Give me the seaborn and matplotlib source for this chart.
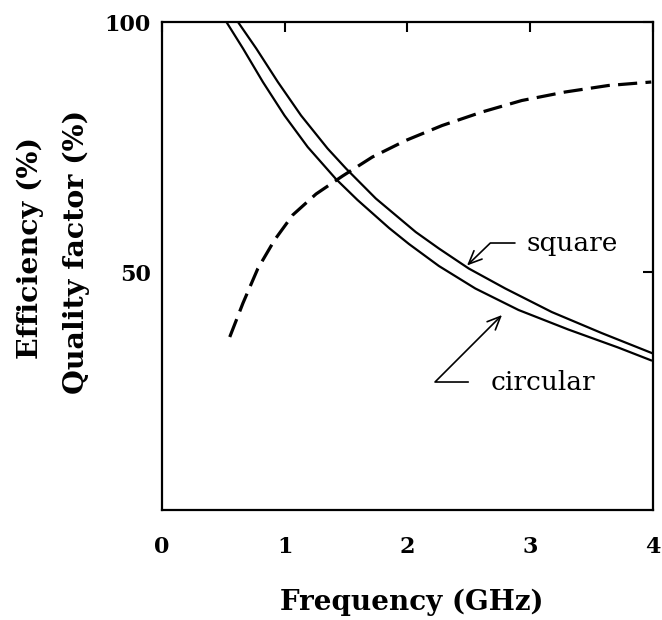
import matplotlib
matplotlib.use("Agg")
import matplotlib.pyplot as plt
import seaborn as sns
import pandas as pd

# Quality factor of the square and circular loops (%), and efficiency (%)
freq_square = [0.619, 0.768, 0.944, 1.133, 1.349, 1.499, 1.742, 2.067, 2.256, 2.499,
               2.797, 3.175, 3.581, 4.000]
q_square = [100.0, 94.7, 88.0, 81.3, 74.7, 70.7, 64.7, 58.0, 54.7, 50.7,
            46.7, 42.0, 37.8, 33.7]

freq_circular = [0.525, 0.660, 0.822, 0.998, 1.187, 1.417, 1.593, 1.850, 2.012, 2.256,
                 2.553, 2.905, 3.310, 3.716, 3.988]
q_circular = [100.0, 94.7, 88.0, 81.3, 75.0, 68.6, 64.4, 58.8, 55.6, 51.2,
              46.7, 42.4, 38.5, 34.9, 32.3]

freq_eff = [0.552, 0.660, 0.781, 0.917, 1.065, 1.255, 1.471, 1.714, 1.985, 2.282,
            2.607, 2.931, 3.284, 3.635, 3.986]
efficiency = [37.0, 43.8, 50.7, 56.4, 61.4, 65.6, 69.2, 73.0, 76.3, 79.3,
              82.0, 84.3, 86.0, 87.3, 88.0]

x_ticks = [0, 1, 2, 3, 4]
y_ticks = [50, 100]

sns.set_theme(style="white")
plt.rcParams["font.family"] = ["DejaVu Serif"]
plt.rcParams["text.color"] = "black"

fig = plt.figure(figsize=(6.62, 6.2), dpi=100)
ax = fig.add_axes([0.2447, 0.1774, 0.7417, 0.7871])

sq = pd.DataFrame({"f": freq_square, "q": q_square})
ci = pd.DataFrame({"f": freq_circular, "q": q_circular})
ef = pd.DataFrame({"f": freq_eff, "e": efficiency})

sns.lineplot(data=sq, x="f", y="q", color="black", linewidth=1.6, ax=ax)
sns.lineplot(data=ci, x="f", y="q", color="black", linewidth=1.6, ax=ax)
sns.lineplot(data=ef, x="f", y="e", color="black", linewidth=2.3,
             linestyle=(0, (6.0, 2.6)), ax=ax)

ax.set_xlim(0, 4)
ax.set_ylim(2.4, 100)
ax.set_xticks(x_ticks)
ax.set_xticklabels([str(t) for t in x_ticks], fontsize=16, fontweight="bold")
ax.set_yticks(y_ticks)
ax.set_yticklabels([str(t) for t in y_ticks], fontsize=16, fontweight="bold")
ax.tick_params(axis="x", direction="in", length=7, width=1.5, top=True,
               pad=19, colors="black")
ax.tick_params(axis="y", direction="in", length=7, width=1.5, right=True,
               pad=8, colors="black")
for s in ax.spines.values():
    s.set_color("black")
    s.set_linewidth(1.6)

ax.set_xlabel("")
ax.set_ylabel("")
fig.text(412 / 662, 1 - 602 / 620, "Frequency (GHz)", ha="center", va="center",
         fontsize=20, fontweight="bold", color="black")
fig.text(30 / 662, 1 - 248 / 620, "Efficiency (%)", ha="center", va="center",
         rotation=90, fontsize=20.5, fontweight="bold", color="black")
fig.text(76 / 662, 1 - 252 / 620, "Quality factor (%)", ha="center", va="center",
         rotation=90, fontsize=20.5, fontweight="bold", color="black")

arrow = dict(arrowstyle="->,head_length=0.5,head_width=0.22", color="black",
             lw=1.2, shrinkB=0)
ax.annotate("square", xy=(2.485, 51.3), xytext=(2.97, 55.8), fontsize=19,
            ha="left", va="center", color="black",
            arrowprops=dict(arrow, shrinkA=6,
                            connectionstyle="angle,angleA=0,angleB=44,rad=0"))
ax.annotate("circular", xy=(2.77, 41.4), xytext=(2.68, 28.0), fontsize=19,
            ha="left", va="center", color="black",
            arrowprops=dict(arrow, shrinkA=14,
                            connectionstyle="angle,angleA=0,angleB=45,rad=0"))

fig.savefig("out.png", dpi=100, facecolor="white")
